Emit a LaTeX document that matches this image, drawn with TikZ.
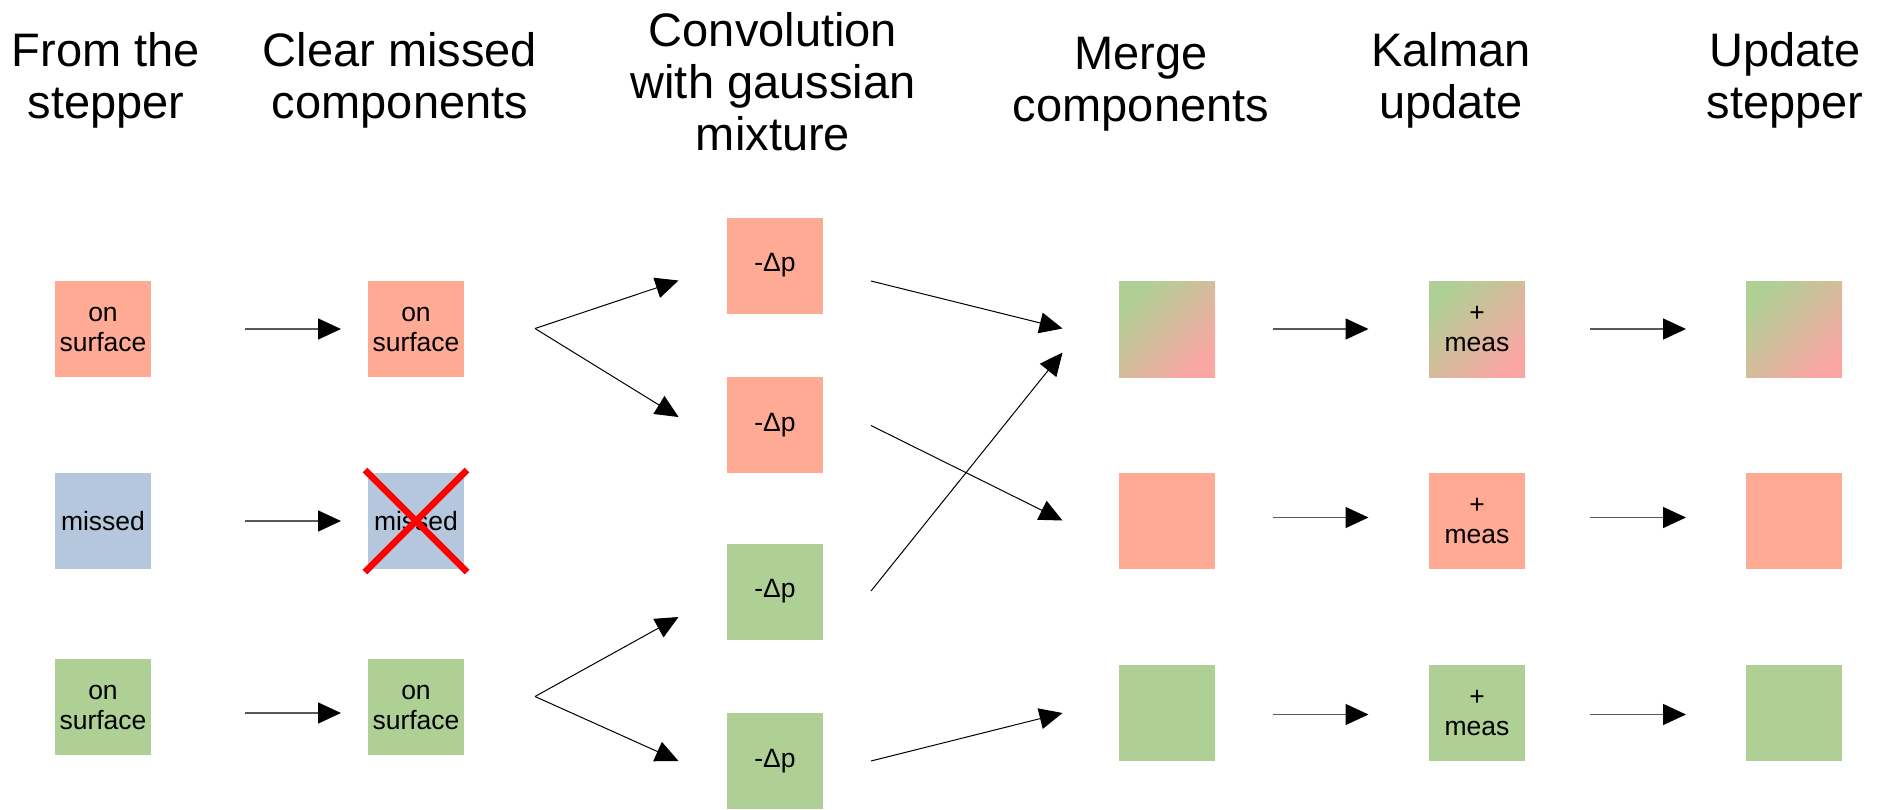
\documentclass[tikz,border=0pt]{standalone}
\usepackage{fontspec}
\setmainfont{Liberation Sans}
\usetikzlibrary{arrows.meta}
\definecolor{cred}{HTML}{FFAA95}
\definecolor{cblue}{HTML}{B4C7DC}
\definecolor{cgreen}{HTML}{AFD095}
\definecolor{cpink}{HTML}{FAA7A3}
\begin{document}
\begin{tikzpicture}[x=1pt,y=-1pt,
  box/.style={minimum width=96pt,minimum height=96pt,inner sep=0pt,outer sep=0pt,align=center,font=\fontsize{26.5}{30}\selectfont},
  redbox/.style={box,fill=cred},
  bluebox/.style={box,fill=cblue},
  greenbox/.style={box,fill=cgreen},
  mixbox/.style={box,top color=cgreen,bottom color=cpink,shading angle=45},
  title/.style={anchor=base,inner sep=0pt,font=\fontsize{47}{52}\selectfont},
  arr/.style={-{Triangle[length=23pt,width=21pt,color=black,fill=black]},line width=1pt,black},
  harr/.style={arr,line width=1.4pt,draw=black!65},
  cross/.style={red,line width=6.4pt}
]
\useasboundingbox (0,0) rectangle (1882,809);

% titles
\node[title] (t1) at (106,66) {\begin{tabular}[t]{@{}c@{}}From the\\stepper\end{tabular}};
\node[title] (t2) at (400,66) {\begin{tabular}[t]{@{}c@{}}Clear missed\\components\end{tabular}};
\node[title] (t3) at (773,46) {\begin{tabular}[t]{@{}c@{}}Convolution\\with gaussian\\mixture\end{tabular}};
\node[title] (t4) at (1141,69) {\begin{tabular}[t]{@{}c@{}}Merge\\components\end{tabular}};
\node[title] (t5) at (1451,66) {\begin{tabular}[t]{@{}c@{}}Kalman\\update\end{tabular}};
\node[title] (t6) at (1785,66) {\begin{tabular}[t]{@{}c@{}}Update\\stepper\end{tabular}};

% column 1
\node[redbox] (a1) at (103,329) {on\\surface};
\node[bluebox] (a2) at (103,521) {missed};
\node[greenbox] (a3) at (103,707) {on\\surface};
% column 2
\node[redbox] (b1) at (416,329) {on\\surface};
\node[bluebox] (b2) at (416,521) {missed};
\node[greenbox] (b3) at (416,707) {on\\surface};
\draw[cross] ([shift={(-3,-3)}]b2.north west) -- ([shift={(3,3)}]b2.south east);
\draw[cross] ([shift={(3,-3)}]b2.north east) -- ([shift={(-3,3)}]b2.south west);
% column 3
\node[redbox] (c1) at (775,265.5) {-Δp};
\node[redbox] (c2) at (775,425) {-Δp};
\node[greenbox] (c3) at (775,591.5) {-Δp};
\node[greenbox] (c4) at (775,761) {-Δp};
% column 4
\node[mixbox] (d1) at (1167,329) {};
\node[redbox] (d2) at (1167,521) {};
\node[greenbox] (d3) at (1167,713) {};
% column 5
\node[mixbox] (e1) at (1477,329) {+\\meas};
\node[redbox] (e2) at (1477,521) {+\\meas};
\node[greenbox] (e3) at (1477,713) {+\\meas};
% column 6
\node[mixbox] (f1) at (1794,329) {};
\node[redbox] (f2) at (1794,521) {};
\node[greenbox] (f3) at (1794,713) {};

% arrow end points
\coordinate (ab1s) at (245,329);   \coordinate (ab1e) at (341,329);
\coordinate (ab2s) at (245,521);   \coordinate (ab2e) at (341,521);
\coordinate (ab3s) at (245,713);   \coordinate (ab3e) at (341,713);
\coordinate (sp1) at (535,328.5);  \coordinate (sp2) at (535,696.5);
\coordinate (c1in) at (678.5,280.5); \coordinate (c2in) at (678.5,417);
\coordinate (c3in) at (678.5,617);   \coordinate (c4in) at (678.5,761);
\coordinate (c1out) at (871,281);  \coordinate (c2out) at (871,425.5);
\coordinate (c3out) at (871,591);  \coordinate (c4out) at (871,761);
\coordinate (d1inA) at (1062.5,328.5); \coordinate (d1inB) at (1062.5,352.5);
\coordinate (d2in) at (1062.5,520.5);  \coordinate (d3in) at (1062.5,713);
\coordinate (de1s) at (1272.5,329); \coordinate (de1e) at (1368.5,329);
\coordinate (de2s) at (1272.5,517.5); \coordinate (de2e) at (1368.5,517.5);
\coordinate (de3s) at (1272.5,714.5); \coordinate (de3e) at (1368.5,714.5);
\coordinate (ef1s) at (1590,329); \coordinate (ef1e) at (1686,329);
\coordinate (ef2s) at (1590,517.5); \coordinate (ef2e) at (1686,517.5);
\coordinate (ef3s) at (1590,714.5); \coordinate (ef3e) at (1686,714.5);

% arrows
\draw[harr] (ab1s) -- (ab1e);
\draw[harr] (ab2s) -- (ab2e);
\draw[harr] (ab3s) -- (ab3e);
\draw[arr] (sp1) -- (c1in);
\draw[arr] (sp1) -- (c2in);
\draw[arr] (sp2) -- (c3in);
\draw[arr] (sp2) -- (c4in);
\draw[arr] (c1out) -- (d1inA);
\draw[arr] (c2out) -- (d2in);
\draw[arr] (c3out) -- (d1inB);
\draw[arr] (c4out) -- (d3in);
\draw[harr] (de1s) -- (de1e);
\draw[harr] (de2s) -- (de2e);
\draw[harr] (de3s) -- (de3e);
\draw[harr] (ef1s) -- (ef1e);
\draw[harr] (ef2s) -- (ef2e);
\draw[harr] (ef3s) -- (ef3e);
\end{tikzpicture}
\end{document}
